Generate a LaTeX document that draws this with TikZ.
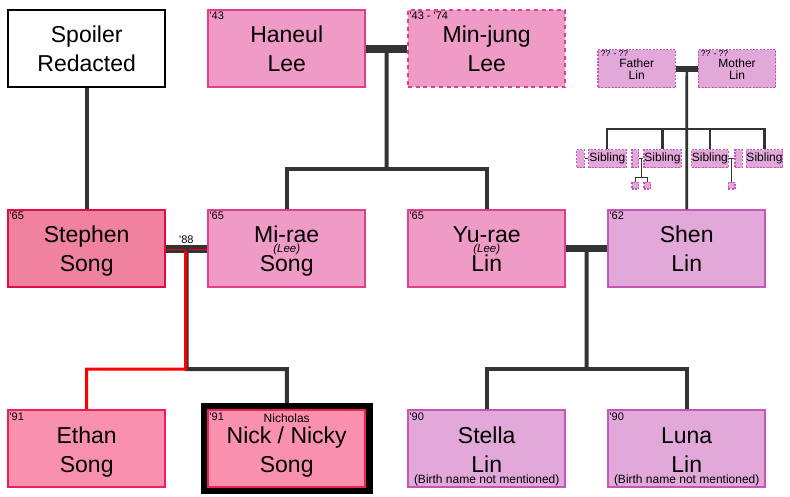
\documentclass[tikz,border=0pt]{standalone}
\usepackage{fontspec}
\setmainfont{Liberation Sans}
\usetikzlibrary{calc}
\definecolor{lineC}{HTML}{333333}
\definecolor{pinkF}{HTML}{EF9BC5}
\definecolor{pinkB}{HTML}{DF3F8C}
\definecolor{redF}{HTML}{F0819F}
\definecolor{redB}{HTML}{DD0E49}
\definecolor{kidF}{HTML}{F990AE}
\definecolor{kidB}{HTML}{F21E59}
\definecolor{purF}{HTML}{E2A8D9}
\definecolor{purB}{HTML}{C655B8}
\definecolor{redL}{HTML}{FF0000}
\newcommand{\q}{\textquotesingle}
\begin{document}
\begin{tikzpicture}[x=1pt,y=-1pt,
  box/.style={rectangle,minimum width=157.3pt,minimum height=77pt,line width=2pt,inner sep=0pt},
  whitebox/.style={box,draw=black,fill=white},
  pinkbox/.style={box,draw=pinkB,fill=pinkF},
  redbox/.style={box,draw=redB,fill=redF},
  kidbox/.style={box,draw=kidB,fill=kidF},
  purbox/.style={box,draw=purB,fill=purF},
  dashbox/.style={dash pattern=on 4pt off 3.7pt},
  smallbox/.style={rectangle,draw=purB,fill=purF,line width=1.2pt,dash pattern=on 2pt off 1.4pt,inner sep=0pt},
  sibbox/.style={smallbox,minimum height=17.8pt,font=\fontsize{12}{12}\selectfont},
  tinybox/.style={smallbox,minimum width=6.8pt,minimum height=6.8pt},
  nm/.style={font=\fontsize{23}{23}\selectfont,anchor=base,inner sep=0pt},
  yr/.style={font=\fontsize{11}{11}\selectfont,anchor=base west,inner sep=0pt},
  sm/.style={font=\fontsize{12}{12}\selectfont,anchor=base,inner sep=0pt},
  mid/.style={font=\fontsize{11.5}{11.5}\selectfont\itshape,anchor=base,inner sep=0pt},
  tiny/.style={font=\fontsize{8.5}{8.5}\selectfont,anchor=base west,inner sep=0pt},
  conn/.style={line width=4pt,draw=lineC},
  bar/.style={line width=7.5pt,draw=lineC},
  sibline/.style={line width=2.2pt,draw=lineC},
  tinyline/.style={line width=1pt,draw=lineC},
  redline/.style={line width=3pt,draw=redL}
]
\useasboundingbox (0,0) rectangle (790,497);
% ---- boxes
\node[whitebox] (spoiler) at (86.7,48.8) {};
\node[pinkbox] (haneul) at (286.7,48.8) {};
\node[pinkbox,dashbox] (minjung) at (486.7,48.8) {};
\node[redbox] (stephen) at (86.7,248.8) {};
\node[pinkbox] (mirae) at (286.7,248.8) {};
\node[pinkbox] (yurae) at (486.7,248.8) {};
\node[purbox] (shen) at (686.7,248.8) {};
\node[kidbox] (ethan) at (86.7,448.8) {};
\node[rectangle,fill=black,minimum width=171.7pt,minimum height=91pt,inner sep=0pt] (nickframe) at (286.85,448.8) {};
\node[kidbox] (nick) at (286.7,448.8) {};
\node[purbox] (stella) at (486.7,448.8) {};
\node[purbox] (luna) at (686.7,448.8) {};
% small Lin family
\node[smallbox,minimum width=77.5pt,minimum height=37.8pt] (father) at (636.7,68.8) {};
\node[smallbox,minimum width=77.5pt,minimum height=37.8pt] (mother) at (737,68.8) {};
\node[smallbox,minimum width=7.5pt,minimum height=17.8pt] (sp1) at (580.35,158.8) {};
\node[sibbox,minimum width=37.5pt] (sib1) at (607.35,158.8) {Sibling};
\node[smallbox,minimum width=6.8pt,minimum height=17.8pt] (sp2) at (635.3,158.8) {};
\node[sibbox,minimum width=37.2pt] (sib2) at (662.5,158.8) {Sibling};
\node[sibbox,minimum width=36.5pt] (sib3) at (709.85,158.8) {Sibling};
\node[smallbox,minimum width=7.2pt,minimum height=17.8pt] (sp3) at (738.5,158.8) {};
\node[sibbox,minimum width=36.4pt] (sib4) at (764.5,158.8) {Sibling};
\node[tinybox] (t1) at (635.3,185.7) {};
\node[tinybox] (t2) at (647.3,185.7) {};
\node[tinybox] (t3) at (731.5,185.7) {};
% ---- connectors
\draw[conn] (spoiler.south) -- (stephen.north);
\draw[bar] (haneul) -- (minjung);
\coordinate (hm) at ($(haneul.east)!0.5!(minjung.west)$);
\coordinate (hmkids) at (386.7,169);
\draw[conn] (hm) -- (hmkids);
\draw[conn] (mirae.north) |- (hmkids) -| (yurae.north);
% Stephen + Mi-rae
\draw[line width=8pt,draw=lineC] (stephen) -- (mirae);
\draw[line width=1.7pt,draw=redL] ($(stephen.east)+(0,0.7)$) -- ($(mirae.west)+(0,0.7)$);
\coordinate (sm) at ($(stephen.east)!0.5!(mirae.west)$);
\coordinate (smkids) at (186.7,369);
\draw[conn] (sm) -- (smkids) -| (nickframe.north);
\draw[redline] ($(sm)+(-1.2,1.5)$) -- ($(smkids)+(-1.2,0)$) -| (ethan.north);
% Yu-rae + Shen
\draw[line width=7pt,draw=lineC] (yurae) -- (shen);
\coordinate (ys) at ($(yurae.east)!0.5!(shen.west)$);
\coordinate (yskids) at (586.7,369);
\draw[conn] (ys) -- (yskids);
\draw[conn] (stella.north) |- (yskids) -| (luna.north);
% Father + Mother Lin
\draw[line width=6pt,draw=lineC] (father) -- (mother);
\coordinate (fm) at ($(father.east)!0.5!(mother.west)$);
\coordinate (fmkids) at (686.85,128.7);
\draw[sibline] (sib1.north) |- (fmkids) -| (sib4.north);
\draw[sibline] (sib2.north) -- (sib2.north |- fmkids);
\draw[sibline] (sib3.north) -- (sib3.north |- fmkids);
\draw[line width=2.7pt,draw=lineC] (fm) -- (shen.north);
\draw[tinyline] (sp1) -- (sib1);
\draw[tinyline] (sp2) -- (sib2);
\coordinate (s2m) at ($(sp2.east)!0.5!(sib2.west)$);
\coordinate (s2kids) at ($(s2m)+(0,18.9)$);
\draw[tinyline] (s2m) -- (s2kids);
\draw[tinyline] (t1.north) |- (s2kids) -| (t2.north);
\draw[tinyline] (sib3) -- (sp3);
\coordinate (s3m) at ($(sib3.east)!0.5!(sp3.west)$);
\draw[tinyline] (s3m) -- (t3.north);
% ---- texts
\node[nm] (tspoiler1) at (86.7,42.7) {Spoiler};
\node[nm] (tspoiler2) at (86.7,71.7) {Redacted};
\node[nm] (thaneul1) at (286.7,43) {Haneul};
\node[nm] (thaneul2) at (286.7,72) {Lee};
\node[yr] (yhaneul) at (209.4,20) {\q43};
\node[nm] (tminjung1) at (486.7,43) {Min-jung};
\node[nm] (tminjung2) at (486.7,72) {Lee};
\node[yr] (yminjung) at (409.4,20) {\q43 - \q74};
\node[nm] (tstephen1) at (86.7,243) {Stephen};
\node[nm] (tstephen2) at (86.7,272) {Song};
\node[yr] (ystephen) at (9.4,220) {\q65};
\node[nm] (tmirae1) at (286.7,243) {Mi-rae};
\node[mid] (tmirae0) at (286.7,252.3) {(Lee)};
\node[nm] (tmirae2) at (286.7,272) {Song};
\node[yr] (ymirae) at (209.4,220) {\q65};
\node[nm] (tyurae1) at (486.7,243) {Yu-rae};
\node[mid] (tyurae0) at (486.7,252.3) {(Lee)};
\node[nm] (tyurae2) at (486.7,272) {Lin};
\node[yr] (yyurae) at (409.4,220) {\q65};
\node[nm] (tshen1) at (686.7,243) {Shen};
\node[nm] (tshen2) at (686.7,272) {Lin};
\node[yr] (yshen) at (609.4,220) {\q62};
\node[yr] (ymarriage) at (179,243.3) {\q88};
\node[nm] (tethan1) at (86.7,443.3) {Ethan};
\node[nm] (tethan2) at (86.7,472) {Song};
\node[yr] (yethan) at (9.4,420) {\q91};
\node[sm] (tnick0) at (286.7,422.3) {Nicholas};
\node[nm] (tnick1) at (286.7,443.3) {Nick / Nicky};
\node[nm] (tnick2) at (286.7,472) {Song};
\node[yr] (ynick) at (209.4,420) {\q91};
\node[nm] (tstella1) at (486.7,443.3) {Stella};
\node[nm] (tstella2) at (486.7,472) {Lin};
\node[sm] (tstella3) at (486.7,483.5) {(Birth name not mentioned)};
\node[yr] (ystella) at (409.4,420) {\q90};
\node[nm] (tluna1) at (686.7,443.3) {Luna};
\node[nm] (tluna2) at (686.7,472) {Lin};
\node[sm] (tluna3) at (686.7,483.5) {(Birth name not mentioned)};
\node[yr] (yluna) at (609.4,420) {\q90};
\node[sm] (tfather1) at (636.7,67.7) {Father};
\node[sm] (tfather2) at (636.7,79.3) {Lin};
\node[tiny] (yfather) at (600.7,56.5) {?? - ??};
\node[sm] (tmother1) at (737,67.7) {Mother};
\node[sm] (tmother2) at (737,79.3) {Lin};
\node[tiny] (ymother) at (700.7,56.5) {?? - ??};
\end{tikzpicture}
\end{document}
